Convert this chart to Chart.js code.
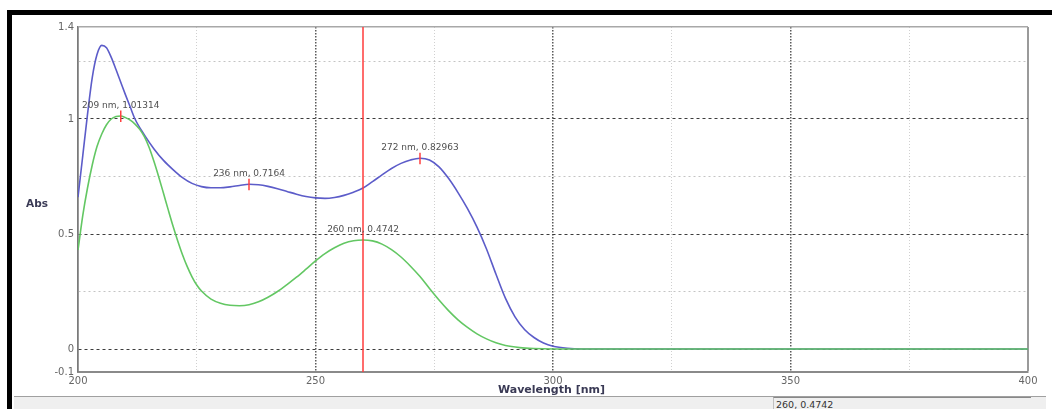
<!DOCTYPE html>
<html>
<head>
<meta charset="utf-8">
<script src="https://cdn.jsdelivr.net/npm/chart.js@4/dist/chart.umd.min.js"></script>
<style>
  html, body { margin: 0; padding: 0; background: #fff; }
  body { width: 1052px; height: 409px; position: relative; overflow: hidden; font-family: "DejaVu Sans", Verdana, sans-serif; }
  #c { position: absolute; left: 0; top: 0; }
  .frameTop { position: absolute; left: 7px; top: 10px; width: 1045px; height: 5px; background: #000; }
  .frameLeft { position: absolute; left: 7px; top: 10px; width: 5px; height: 399px; background: #000; }
  .ytitle { position: absolute; left: 26px; top: 196px; font-size: 10.5px; line-height: 14px; font-weight: bold; color: #3a3a55; }
  .xtitle { position: absolute; left: 498px; top: 383px; font-size: 11px; line-height: 13px; font-weight: bold; color: #3a3a55; }
  .statusbar { position: absolute; left: 14px; top: 396px; width: 1032px; height: 13px; background: #efefef; border-top: 1px solid #a0a0a0; }
  .statusbox { position: absolute; left: 773px; top: 397px; width: 255px; height: 12px; border-left: 1px solid #c0c0c0; border-top: 1px solid #888; font-size: 9.5px; color: #333; padding-left: 2px; line-height: 13px; }
</style>
</head>
<body>
<div class="frameTop"></div>
<div class="frameLeft"></div>
<canvas id="c" width="1052" height="409"></canvas>
<div class="ytitle" id="ytitle"></div>
<div class="xtitle" id="xtitle"></div>
<div class="statusbar"></div>
<div class="statusbox" id="status"></div>
<script>
// ---- data ----
const yAxisTitle = "Abs";
const xAxisTitle = "Wavelength [nm]";

const blueWl  = [200, 201, 202, 203, 204, 205, 206, 207, 208, 209, 210, 211, 212, 214, 216, 218, 220, 222, 224, 226, 228, 230, 232, 234, 236, 238, 240, 242, 244, 246, 248, 250, 252, 254, 256, 258, 260, 262, 264, 266, 268, 270, 272, 274, 276, 278, 280, 282, 284, 286, 288, 290, 292, 294, 296, 298, 300, 303, 306, 320, 350, 400];
const blueAbs = [0.66, 0.84, 1.02, 1.18, 1.28, 1.32, 1.31, 1.268, 1.215, 1.16, 1.105, 1.052, 1.0, 0.93, 0.87, 0.82, 0.78, 0.745, 0.72, 0.706, 0.701, 0.701, 0.705, 0.711, 0.7164, 0.714, 0.707, 0.697, 0.685, 0.673, 0.663, 0.657, 0.655, 0.659, 0.668, 0.682, 0.700, 0.728, 0.757, 0.785, 0.807, 0.822, 0.82963, 0.822, 0.792, 0.742, 0.68, 0.61, 0.53, 0.435, 0.325, 0.22, 0.14, 0.085, 0.05, 0.026, 0.012, 0.003, 0.0, 0.0, 0.0, 0.0];

const greenWl  = [200, 201, 202, 203, 204, 205, 206, 207, 208, 209, 210, 211, 212, 213, 214, 215, 216, 217, 218, 219, 220, 221, 222, 223, 224, 225, 226, 228, 230, 232, 234, 236, 238, 240, 242, 244, 246, 248, 250, 252, 254, 256, 258, 260, 262, 264, 266, 268, 270, 272, 274, 276, 278, 280, 282, 284, 286, 288, 290, 293, 296, 300, 350, 400];
const greenAbs = [0.43, 0.58, 0.70, 0.80, 0.88, 0.935, 0.975, 1.0, 1.011, 1.01314, 1.006, 0.995, 0.978, 0.955, 0.922, 0.875, 0.815, 0.748, 0.677, 0.605, 0.535, 0.47, 0.41, 0.358, 0.314, 0.278, 0.252, 0.217, 0.199, 0.19, 0.188, 0.192, 0.205, 0.225, 0.25, 0.28, 0.312, 0.347, 0.383, 0.415, 0.44, 0.46, 0.471, 0.4742, 0.47, 0.456, 0.432, 0.4, 0.36, 0.315, 0.263, 0.213, 0.167, 0.127, 0.094, 0.066, 0.044, 0.027, 0.015, 0.006, 0.002, 0.0, 0.0, 0.0];

const peakWl   = [209, 236, 272, 260];
const peakAbs  = [1.01314, 0.7164, 0.82963, 0.4742];
const peakTick = [true, true, true, false];

const cursorWl  = 260;
const cursorAbs = 0.4742;

const xGridValues  = [200, 225, 250, 275, 300, 325, 350, 375, 400];
const xLabelValues = [200, 250, 300, 350, 400];
const yGridValues  = [-0.1, 0, 0.25, 0.5, 0.75, 1, 1.25, 1.4];
const yLabelValues = [-0.1, 0, 0.5, 1, 1.4];

// ---- page texts ----
document.getElementById('ytitle').textContent = yAxisTitle;
document.getElementById('xtitle').textContent = xAxisTitle;
document.getElementById('status').textContent = cursorWl + ', ' + cursorAbs;

const toPts = (xs, ys) => xs.map((x, i) => ({ x: x, y: ys[i] }));
const FONT = '"DejaVu Sans", Verdana, sans-serif';

const annotPlugin = {
  id: 'annot',
  afterDatasetsDraw(chart) {
    const ctx = chart.ctx;
    const xs = chart.scales.x, ys = chart.scales.y;
    const area = chart.chartArea;
    ctx.save();
    // cursor line
    const cx = xs.getPixelForValue(cursorWl);
    ctx.strokeStyle = '#ff3b3b';
    ctx.lineWidth = 1.5;
    ctx.beginPath();
    ctx.moveTo(cx, area.top);
    ctx.lineTo(cx, area.bottom);
    ctx.stroke();
    // peak marks + labels
    ctx.font = '9px ' + FONT;
    ctx.textAlign = 'center';
    ctx.textBaseline = 'middle';
    for (let i = 0; i < peakWl.length; i++) {
      const px = xs.getPixelForValue(peakWl[i]);
      const py = ys.getPixelForValue(peakAbs[i]);
      if (peakTick[i]) {
        ctx.strokeStyle = '#ff4040';
        ctx.lineWidth = 1.5;
        ctx.beginPath();
        ctx.moveTo(px, py - 5.5);
        ctx.lineTo(px, py + 6);
        ctx.stroke();
      }
      ctx.fillStyle = '#505050';
      ctx.fillText(peakWl[i] + ' nm, ' + peakAbs[i], px, py - 10.5);
    }
    ctx.restore();
  }
};

const isIn = (arr, v) => arr.some(a => Math.abs(a - v) < 1e-9);

new Chart(document.getElementById('c'), {
  type: 'line',
  data: {
    datasets: [
      { label: 'green', data: toPts(greenWl, greenAbs), borderColor: '#63c763', borderWidth: 1.6, pointRadius: 0, cubicInterpolationMode: 'monotone', fill: false },
      { label: 'blue', data: toPts(blueWl, blueAbs), borderColor: '#5c5cc9', borderWidth: 1.6, pointRadius: 0, cubicInterpolationMode: 'monotone', fill: false }
    ]
  },
  options: {
    responsive: false,
    animation: false,
    events: [],
    layout: { padding: { left: 0, top: 27, right: 24, bottom: 0 } },
    plugins: { legend: { display: false }, tooltip: { enabled: false } },
    scales: {
      x: {
        type: 'linear',
        min: 200, max: 400,
        afterFit: s => { s.height = 37; },
        afterBuildTicks: s => { s.ticks = xGridValues.map(v => ({ value: v })); },
        ticks: {
          autoSkip: false, maxRotation: 0, padding: 3,
          color: '#666', font: { size: 10, family: FONT },
          callback: v => isIn(xLabelValues, v) ? String(v) : ''
        },
        grid: {
          drawTicks: false,
          lineWidth: c => (c.tick && (c.tick.value === 400)) ? 2 : (isIn(xLabelValues, c.tick.value) ? 1.5 : 1),
          color: c => {
            const v = c.tick.value;
            if (v === 400) return '#9a9a9a';
            if (v === 200) return '#777';
            return isIn(xLabelValues, v) ? '#5a5a5a' : '#d0d0d0';
          }
        },
        border: {
          display: true, color: '#8a8a8a', width: 2,
          dash: c => {
            const v = c.tick ? c.tick.value : null;
            if (v === 200 || v === 400) return [];
            return isIn(xLabelValues, v) ? [1.5, 1.5] : [1, 2];
          }
        }
      },
      y: {
        type: 'linear',
        min: -0.1, max: 1.4,
        afterFit: s => { s.width = 78; },
        afterBuildTicks: s => { s.ticks = yGridValues.map(v => ({ value: v })); },
        ticks: {
          autoSkip: false, padding: 4,
          color: '#666', font: { size: 10, family: FONT },
          callback: v => isIn(yLabelValues, v) ? String(v) : ''
        },
        grid: {
          drawTicks: false,
          lineWidth: c => {
            const v = c.tick.value;
            if (v === 1.4) return 1.5;
            if (v === -0.1) return 0;
            return 1;
          },
          color: c => {
            const v = c.tick.value;
            if (v === 1.4) return '#a8a8a8';
            return isIn([0, 0.5, 1], v) ? '#3c3c3c' : '#c4c4c4';
          }
        },
        border: {
          display: true, color: '#7a7a7a', width: 1.5,
          dash: c => {
            const v = c.tick ? c.tick.value : null;
            if (v === 1.4 || v === -0.1) return [];
            return isIn([0, 0.5, 1], v) ? [3, 3] : [2, 3];
          }
        }
      }
    }
  },
  plugins: [annotPlugin]
});
</script>
</body>
</html>
